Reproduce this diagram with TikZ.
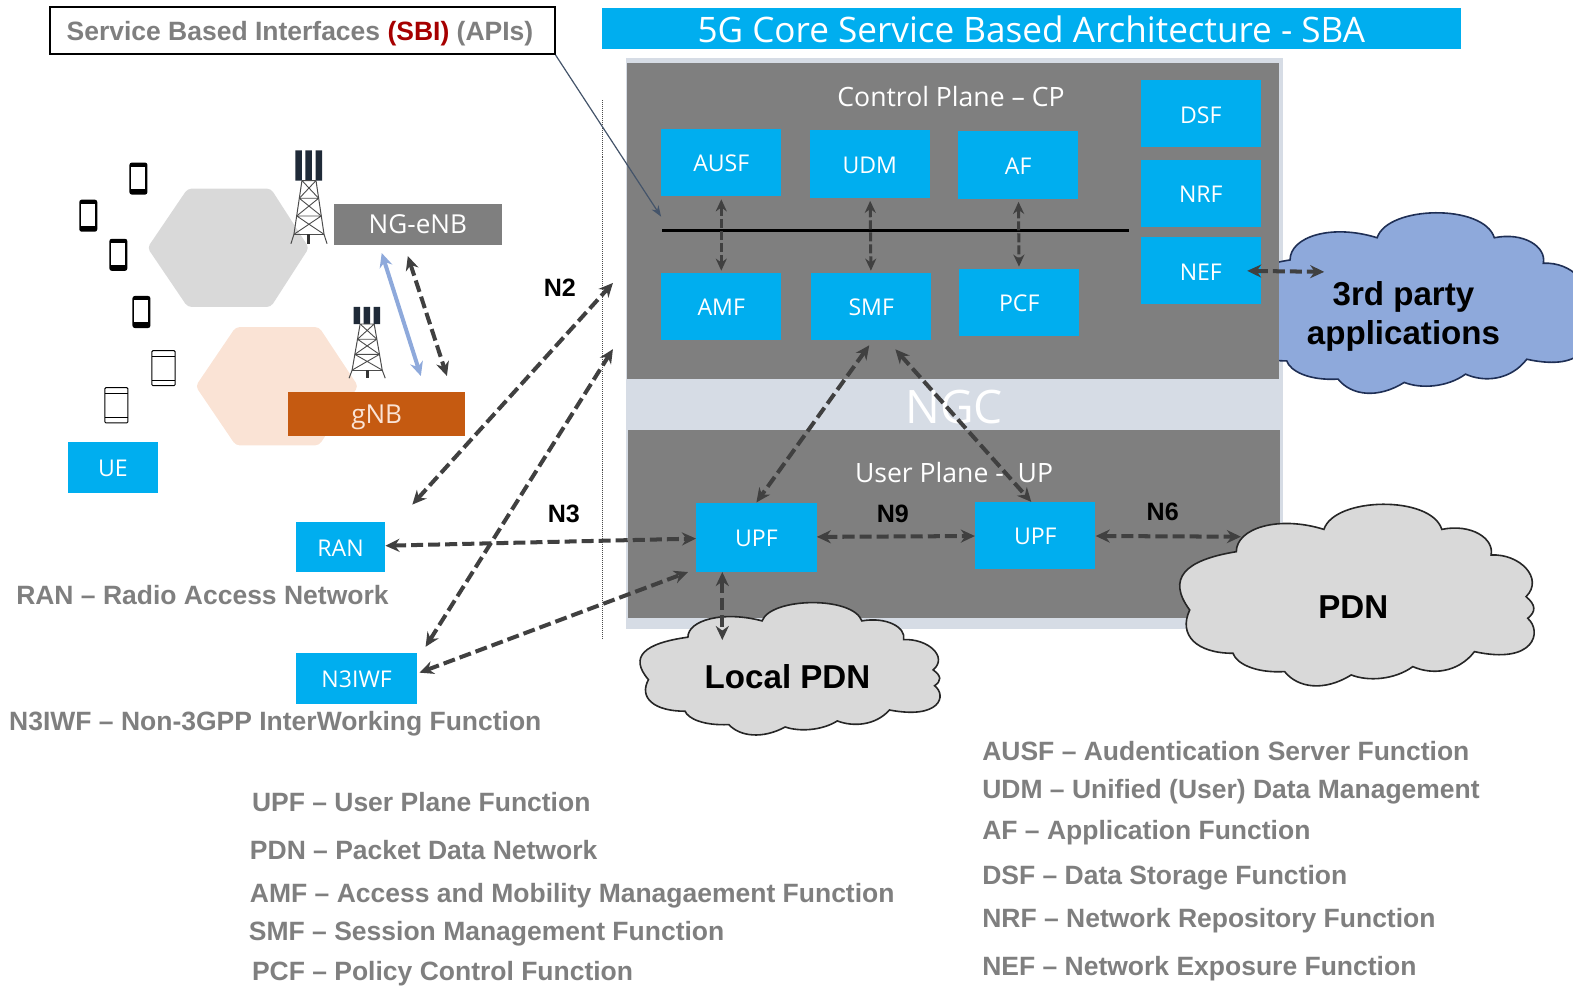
\documentclass[tikz,border=0pt]{standalone}
\usepackage{fontspec}
\setmainfont{Liberation Sans}
\newfontfamily\boxfont{Open Sans}
\usepackage{tikz}
\usetikzlibrary{arrows.meta}

\definecolor{nfblue}{HTML}{00AEEF}
\definecolor{planegray}{HTML}{7F7F7F}
\definecolor{ngcgray}{HTML}{D6DCE5}
\definecolor{linkgray}{HTML}{404040}
\definecolor{notegray}{HTML}{7F7F7F}
\definecolor{sbiline}{HTML}{44546A}
\definecolor{hexgray}{HTML}{D9D9D9}
\definecolor{hexpeach}{HTML}{FAE3D5}
\definecolor{gnbfill}{HTML}{C55A11}
\definecolor{partyblue}{HTML}{8EA9DB}
\definecolor{partyline}{HTML}{1F2F55}
\definecolor{antenna}{HTML}{1F2A38}

\newcommand{\cloudoutline}{(75,345) .. controls (5,250) and (60,195) .. (215,170)
	.. controls (215,100) and (340,60) .. (478,103)
	.. controls (510,5) and (800,0) .. (832,103)
	.. controls (920,85) and (990,130) .. (980,180)
	.. controls (1065,175) and (1140,250) .. (1085,305)
	.. controls (1115,330) and (1115,350) .. (1090,370)
	.. controls (1135,410) and (1110,510) .. (930,470)
	.. controls (880,535) and (800,540) .. (745,515)
	.. controls (690,555) and (610,560) .. (560,540)
	.. controls (480,590) and (400,580) .. (360,530)
	.. controls (270,535) and (215,505) .. (205,475)
	.. controls (95,475) and (40,420) .. (75,345) -- cycle}

\tikzset{
	phone/.pic={
		\fill[black,rounded corners=2.5pt] (-9,-16) rectangle (9,16);
		\fill[white] (-7,-12) rectangle (7,10);
	},
	tablet/.pic={
		\draw[black,line width=1pt,rounded corners=1pt] (-11.5,-17.5) rectangle (11.5,17.5);
		\draw[black,line width=1pt] (-11.5,-12) -- (11.5,-12) (-11.5,12) -- (11.5,12);
	},
	pics/tower/.style 2 args={code={
		\fill[antenna] (-13.5,-#1) rectangle (-7,0) (-3.5,-#1) rectangle (3,0) (6.5,-#1) rectangle (13,0);
		\draw[black!70,line width=1pt] (-7,0) -- (-15,{.85*#2}) -- (-18,#2) (7,0) -- (15,{.85*#2}) -- (18,#2);
		\foreach \lev/\nxt in {0/.28,.28/.56,.56/.85}{
			\draw[black!70,line width=.9pt] ({-7-9.4*\lev},{\lev*#2}) -- ({7+9.4*\lev},{\lev*#2})
				({-7-9.4*\lev},{\lev*#2}) -- ({7+9.4*\nxt},{\nxt*#2})
				({7+9.4*\lev},{\lev*#2}) -- ({-7-9.4*\nxt},{\nxt*#2});
		}
		\draw[black!70,line width=1pt] (-15,{.85*#2}) -- (15,{.85*#2});
		\draw[black!80,line width=3pt] (0,{.85*#2}) -- (0,#2);
	}}
}

\begin{document}
\begin{tikzpicture}[x=1pt,y=-1pt,node distance=148pt,>={Stealth[length=14pt,width=13pt]},
		nf/.style={fill=nfblue,text=white,font=\boxfont\fontsize{23}{25}\selectfont,minimum width=120pt,minimum height=67pt,inner sep=0pt,text height=18.5pt,text depth=0pt},
		plane/.style={fill=planegray,minimum width=650pt,inner sep=0pt},
		planetext/.style={text=white,font=\boxfont\fontsize{26.5}{28}\selectfont,inner sep=0pt},
		base/.style={inner sep=0pt,text=white,font=\boxfont\fontsize{26}{28}\selectfont,text height=18.5pt,text depth=0pt},
		cloudtext/.style={inner sep=0pt,font=\bfseries\fontsize{33}{39}\selectfont,align=center},
		note/.style={anchor=base west,yshift=-9.5pt,inner sep=0pt,text=notegray,font=\bfseries\fontsize{26.4}{28}\selectfont},
		ref/.style={inner sep=0pt,font=\bfseries\fontsize{25}{27}\selectfont},
		link/.style={draw=linkgray,<->,dash pattern=on 12pt off 5pt,line width=4pt},
		minilink/.style={draw=linkgray,<->,>={Stealth[length=12pt,width=11pt]},dash pattern=on 9pt off 3pt,line width=3pt}]

	\useasboundingbox (0,0) rectangle (1568,982);

	\fill[hexgray,rounded corners=4pt] (147,247) -- (187,188) -- (270,188) -- (308,247) -- (270,306) -- (187,306) -- cycle;
	\fill[hexpeach,rounded corners=4pt] (195,385) -- (235,326) -- (318,326) -- (357,385) -- (318,444) -- (235,444) -- cycle;

	\pic at (138,178) {phone};
	\pic at (88,215) {phone};
	\pic at (118,254) {phone};
	\pic at (141,311) {phone};
	\pic at (163,367) {tablet};
	\pic at (116,404) {tablet};
	\pic at (308,180) {tower={30}{63}};
	\pic at (366,323) {tower={17}{54}};

	\node[nf,minimum width=856pt,minimum height=41pt,font=\boxfont\fontsize{35}{37}\selectfont,text height=28pt] (title) at (1028,28.5) {5G Core Service Based Architecture - SBA};

	\node[fill=ngcgray,minimum width=655pt,minimum height=569pt,inner sep=0pt] (ngc) at (951.5,342.5) {};
	\filldraw[shift={(1215,203)},scale=.33,fill=partyblue,draw=partyline,line width=1.6pt] \cloudoutline;
	\node[plane,minimum height=315pt] (cp) at (950,220.5) {};
	\node[plane,minimum height=187pt] (up) at (951,522.5) {};
	\node[text=white,inner sep=0pt,font=\boxfont\fontsize{46}{48}\selectfont] (ngclabel) at (951,406) {NGC};
	\node[planetext] (cplabel) at (948,96) {Control Plane – CP};
	\node[planetext] (uplabel) at (951,471) {User Plane -\ \ UP};

	\node[nf] (ausf) at (719,162) {AUSF};
	\node[nf] (udm) [right of=ausf,yshift=-1.5pt] {UDM};
	\node[nf] (af) [right of=udm,yshift=-1pt] {AF};
	\node[nf] (amf) at (719,305.5) {AMF};
	\node[nf] (smf) [right of=amf,xshift=1.5pt] {SMF};
	\node[nf] (pcf) at (1016,301.5) {PCF};
	\node[nf] (dsf) at (1197,113.5) {DSF};
	\node[nf] (nrf) at (1197,192.5) {NRF};
	\node[nf] (nef) at (1197,270) {NEF};
	\node[nf,minimum height=69pt] (upfa) at (754,535.5) {UPF};
	\node[nf] (upfb) at (1032,534) {UPF};

	\node[nf,minimum width=89pt,minimum height=50pt] (ran) at (339.5,545) {RAN};
	\node[nf,minimum width=121pt,minimum height=51pt] (n3iwf) at (355.5,676.5) {N3IWF};
	\node[nf,minimum width=89pt,minimum height=50pt] (ue) at (112.5,466) {UE};
	\node[base,fill=planegray,minimum width=167pt,minimum height=41pt] (ngenb) at (416.5,223.5) {NG-eNB};
	\node[base,fill=gnbfill,text=hexpeach,minimum width=177pt,minimum height=44pt] (gnb) at (375.5,413) {gNB};

	\filldraw[shift={(1161,493.5)},scale=.332,fill=hexgray,draw=black!85,line width=1.6pt] \cloudoutline;
	\filldraw[shift={(625.3,594)},xscale=.281,yscale=.242,fill=hexgray,draw=black!85,line width=1.6pt] \cloudoutline;

	\node[cloudtext] (party) at (1399,315) {3rd party\\applications};
	\node[cloudtext] (pdn) at (1349,605) {PDN};
	\node[cloudtext] (localpdn) at (785,675) {Local PDN};

	\node[draw=black,line width=1.5pt,fill=white,minimum width=503pt,minimum height=47pt,inner sep=0pt,text=notegray,font=\bfseries\fontsize{26.4}{28}\selectfont,text height=19pt,text depth=0pt] (sbi) at (301.5,30.5) {Service Based Interfaces \textcolor{red!65!black}{(SBI)} (APIs)\hspace*{5pt}};

	\coordinate (sbitip) at (659,216);
	\coordinate (busl) at (660,230);
	\coordinate (busr) at (1125,230);
	\coordinate (dottop) at (601,100);
	\coordinate (dotbot) at (601,637);
	\coordinate (ntwo) at (611,282);
	\coordinate (ntwoend) at (411,503);
	\coordinate (amfend) at (611,348);
	\coordinate (pdnend) at (1237,535);
	\coordinate (partyend) at (1320,271);
	\coordinate (localend) at (720,638);

	\draw[densely dotted,black!70,line width=1pt] (dottop) -- (dotbot);
	\draw[black,line width=2.5pt] (busl) -- (busr);
	\draw[->,>={Stealth[length=11pt,width=8pt]},draw=sbiline,line width=1.2pt] (sbi.south east) -- (sbitip);

	\path[every edge/.style={draw,minilink,shorten >=2pt,shorten <=3pt}]
	(ausf) edge (amf)
	(udm) edge (smf)
	(af) edge (pcf);

	\path[every edge/.style={draw,link}]
	(ntwoend) edge (ntwo)
	(ran) edge (upfa)
	([shift={(8,-6)}]n3iwf.north east) edge (amfend)
	([shift={(2,-6)}]n3iwf.east) edge ([xshift=-8pt]upfa.south west)
	([xshift=-34pt]upfa.south) edge (localend)
	([shift={(-2,5)}]smf.south) edge (upfa.north)
	([shift={(24,9)}]smf.south) edge ([shift={(-4,0)}]upfb.north)
	(upfa) edge (upfb)
	(upfb) edge (pdnend)
	([xshift=-14pt]nef.east) edge (partyend)
	([shift={(-10,11)}]ngenb.south) edge ([shift={(70,-16)}]gnb.north);
	\draw[<->,draw=partyblue,line width=4pt] ([shift={(-36,8)}]ngenb.south) -- ([shift={(44,-16)}]gnb.north);

	\node[ref] (ntwolabel) at (558,287) {N2};
	\node[ref] (nthree) at (562,512) {N3};
	\node[ref] (nnine) at (890,512) {N9};
	\node[ref] (nsix) at (1159,510) {N6};

	\node[note] (noteran) at (16,593) {RAN – Radio Access Network};
	\node[note] (noten3) at (9,719) {N3IWF – Non-3GPP InterWorking Function};
	\node[note] (noteupf) at (251,799) {UPF – User Plane Function};
	\node[note] (notepdn) at (249,847) {PDN – Packet Data Network};
	\node[note] (noteamf) at (249,890) {AMF – Access and Mobility Managaement Function};
	\node[note] (notesmf) at (248,928) {SMF – Session Management Function};
	\node[note] (notepcf) at (251,968) {PCF – Policy Control Function};
	\node[note] (noteausf) at (979,749) {AUSF – Audentication Server Function};
	\node[note] (noteudm) at (979,786) {UDM – Unified (User) Data Management};
	\node[note] (noteaf) at (979,827) {AF – Application Function};
	\node[note] (notedsf) at (979,872) {DSF – Data Storage Function};
	\node[note] (notenrf) at (979,915) {NRF – Network Repository Function};
	\node[note] (notenef) at (979,963) {NEF – Network Exposure Function};
\end{tikzpicture}
\end{document}
